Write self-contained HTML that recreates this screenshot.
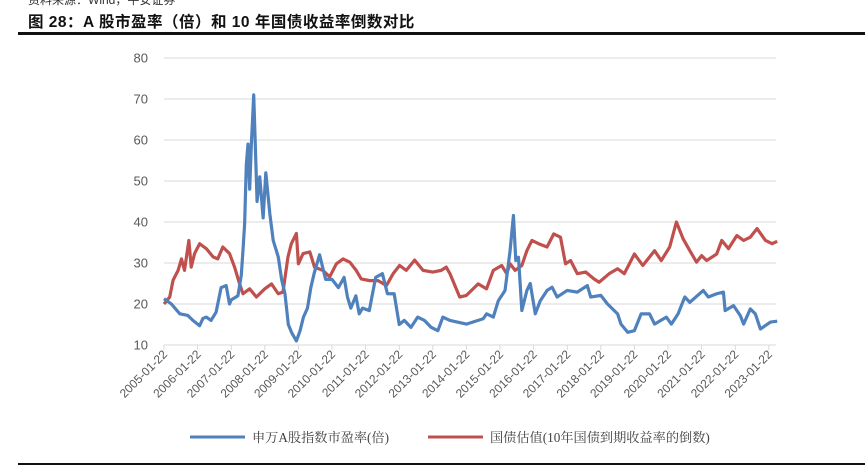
<!DOCTYPE html>
<html><head><meta charset="utf-8"><style>
body{margin:0;width:865px;height:472px;background:#fff;overflow:hidden;position:relative;font-family:"Liberation Sans","Noto Sans CJK SC",sans-serif}
.top{position:absolute;left:28px;top:-9px;font-size:12px;color:#333}
.title{position:absolute;left:28px;top:10px;font-size:15.5px;font-weight:bold;color:#111;letter-spacing:0.5px}
.rule{position:absolute;left:18px;width:847px;background:#111}
</style></head><body>
<div class="top">资料来源：Wind，平安证券</div>
<div class="title">图 28：A 股市盈率（倍）和 10 年国债收益率倒数对比</div>
<div class="rule" style="top:32px;height:3px"></div>
<div class="rule" style="top:463px;height:2px"></div>
<svg id="chart" width="865" height="472" style="position:absolute;left:0;top:0"></svg>
<script>
const yTicks=[10,20,30,40,50,60,70,80];
const xLabels=["2005-01-22","2006-01-22","2007-01-22","2008-01-22","2009-01-22","2010-01-22","2011-01-22","2012-01-22","2013-01-22","2014-01-22","2015-01-22","2016-01-22","2017-01-22","2018-01-22","2019-01-22","2020-01-22","2021-01-22","2022-01-22","2023-01-22"];
const peYears=[2005.0,2005.22,2005.47,2005.71,2005.86,2006.06,2006.16,2006.26,2006.4,2006.55,2006.7,2006.85,2006.95,2007.0,2007.1,2007.2,2007.3,2007.35,2007.4,2007.45,2007.5,2007.55,2007.6,2007.63,2007.67,2007.77,2007.85,2007.95,2008.03,2008.15,2008.25,2008.4,2008.5,2008.6,2008.7,2008.8,2008.94,2009.05,2009.15,2009.27,2009.37,2009.47,2009.63,2009.81,2010.0,2010.19,2010.36,2010.46,2010.56,2010.71,2010.81,2010.91,2011.11,2011.3,2011.5,2011.65,2011.85,2012.0,2012.15,2012.35,2012.55,2012.75,2012.95,2013.15,2013.3,2013.51,2014.0,2014.5,2014.6,2014.8,2014.95,2015.15,2015.3,2015.4,2015.47,2015.55,2015.65,2015.8,2015.9,2016.05,2016.2,2016.4,2016.55,2016.7,2017.0,2017.3,2017.6,2017.7,2018.0,2018.2,2018.5,2018.6,2018.8,2019.0,2019.2,2019.45,2019.6,2019.95,2020.1,2020.3,2020.5,2020.65,2021.05,2021.2,2021.45,2021.65,2021.7,2021.95,2022.15,2022.25,2022.45,2022.6,2022.75,2023.05,2023.25];
const peValues=[21.3,20,17.6,17.2,16,14.7,16.5,16.8,16,18,24,24.5,20,21,21.5,22,27,33,39.6,54,59,48,59,64,71,45,51,41,52,42,35.5,31.5,26,22.5,15,13,11,13.5,16.8,19,24,27.5,32,26,26,24,26.5,21.7,19,22,17.6,19,18.4,26.5,27.4,22.5,22.5,15,16,14.3,16.8,16,14.3,13.5,16.8,16,15.1,16.4,17.6,16.8,20.8,23.3,33,41.6,30.6,31.4,18.4,23.3,25,17.6,20.8,23.3,24.1,21.7,23.3,22.9,24.5,21.7,22.1,20,17.6,15.1,13.1,13.5,17.6,17.6,15.1,16.8,15.1,17.6,21.7,20.4,23.3,21.7,22.5,22.9,18.4,19.6,17.2,15.1,18.8,17.6,13.9,15.6,15.8];
const bondYears=[2005.0,2005.17,2005.27,2005.42,2005.52,2005.61,2005.74,2005.81,2005.91,2006.06,2006.26,2006.46,2006.6,2006.75,2006.95,2007.1,2007.25,2007.35,2007.55,2007.75,2008.0,2008.2,2008.4,2008.54,2008.69,2008.79,2008.94,2009.0,2009.14,2009.34,2009.48,2009.73,2009.93,2010.13,2010.33,2010.53,2010.72,2010.87,2011.12,2011.37,2011.62,2011.82,2012.01,2012.21,2012.46,2012.71,2013.0,2013.25,2013.4,2013.51,2013.8,2014.0,2014.35,2014.6,2014.8,2015.05,2015.2,2015.3,2015.45,2015.65,2015.8,2015.95,2016.15,2016.4,2016.6,2016.8,2016.95,2017.1,2017.3,2017.55,2017.8,2017.95,2018.25,2018.5,2018.7,2019.0,2019.25,2019.6,2019.8,2020.05,2020.25,2020.45,2020.65,2020.85,2021.0,2021.15,2021.45,2021.6,2021.8,2022.05,2022.25,2022.45,2022.65,2022.9,2023.1,2023.25];
const bondValues=[20,21.7,25.8,28.2,31,28.2,35.5,29,32.3,34.7,33.5,31.5,31,33.9,32.3,29,24.9,22.5,23.7,21.7,23.7,24.9,22.5,22.9,31.5,34.7,37.2,29.8,32.3,32.7,29,28.2,26.6,29.8,31,30.2,28.2,26.1,25.7,25.7,24.5,27.4,29.4,28.2,30.7,28.2,27.8,28.2,29,27.4,21.7,22.1,24.9,23.7,28.2,29.4,27.4,29.8,28.2,29.4,33,35.5,34.7,33.9,37.1,36.3,29.8,30.6,27.4,27.8,26.1,25.3,27.4,28.6,27.4,32.2,29.4,33,30.6,33.9,40,35.9,33,30.2,31.8,30.6,32.2,35.5,33.5,36.7,35.5,36.3,38.4,35.5,34.7,35.3];
const NS="http://www.w3.org/2000/svg",svg=document.getElementById('chart');
const X0=164,XW=33.6,Y10=345,YP=4.1,XR=776;
const xs=y=>X0+(y-2005)*XW, ys=v=>Y10-(v-10)*YP;
function mk(t,a){const e=document.createElementNS(NS,t);for(const k in a)e.setAttribute(k,a[k]);svg.appendChild(e);return e;}
yTicks.forEach(v=>{
 const g=mk('line',{x1:X0,x2:XR,y1:ys(v),y2:ys(v),stroke:'#d9d9d9','stroke-width':1});
 
 
 const t=mk('text',{x:148,y:ys(v)+4.5,'text-anchor':'end','font-size':13,fill:'#595959','font-family':'Liberation Sans'});
 t.textContent=v;
 
 
});
xLabels.forEach((l,i)=>{
 const x=X0+i*XW;
 const tk=mk('line',{x1:x,x2:x,y1:Y10,y2:Y10+5,stroke:'#d9d9d9'});
 
 
 const t=mk('text',{x:x+4,y:Y10+10,'text-anchor':'end','font-size':12,fill:'#595959','font-family':'Liberation Sans',transform:`rotate(-45 ${x+4} ${Y10+10})`});
 t.textContent=l;
 
 
});
function line(yrs,vals,c,name){
 const p=mk('polyline',{points:yrs.map((y,i)=>xs(y)+','+ys(vals[i])).join(' '),fill:'none',stroke:c,'stroke-width':3.2,'stroke-linejoin':'round'});
 
 
}
line(bondYears,bondValues,'#c0504d','bond-yield-inverse-line');
line(peYears,peValues,'#4f81bd','pe-ratio-line');
[[190,'#4f81bd','申万A股指数市盈率(倍)','legend-pe'],[428,'#c0504d','国债估值(10年国债到期收益率的倒数)','legend-bond']].forEach(([x,c,txt,n])=>{
 const l=mk('line',{x1:x,x2:x+55,y1:437,y2:437,stroke:c,'stroke-width':3});
 
 
 const t=mk('text',{x:x+62,y:442,'font-size':13.2,fill:'#404040','font-family':'Liberation Serif, Noto Serif CJK SC, serif'});
 t.textContent=txt;
 
 
});
</script>
</body></html>
